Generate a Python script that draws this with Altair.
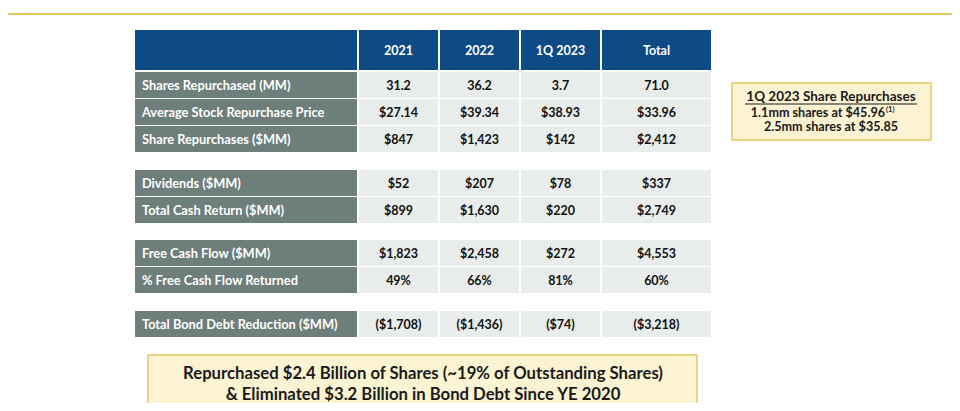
import altair as alt
import pandas as pd

# ---- table content ----
headers = ["", "2021", "2022", "1Q 2023", "Total"]
row_labels = [
    "Shares Repurchased (MM)",
    "Average Stock Repurchase Price",
    "Share Repurchases ($MM)",
    "Dividends ($MM)",
    "Total Cash Return ($MM)",
    "Free Cash Flow ($MM)",
    "% Free Cash Flow Returned",
    "Total Bond Debt Reduction ($MM)",
]
vals_2021 = ["31.2", "$27.14", "$847", "$52", "$899", "$1,823", "49%", "($1,708)"]
vals_2022 = ["36.2", "$39.34", "$1,423", "$207", "$1,630", "$2,458", "66%", "($1,436)"]
vals_1q23 = ["3.7", "$38.93", "$142", "$78", "$220", "$272", "81%", "($74)"]
vals_total = ["71.0", "$33.96", "$2,412", "$337", "$2,749", "$4,553", "60%", "($3,218)"]

side_title = "1Q 2023 Share Repurchases"
side_line1 = "1.1mm shares at $45.96"
side_sup = "(1)"
side_line2 = "2.5mm shares at $35.85"
bottom_lines = [
    "Repurchased $2.4 Billion of Shares (~19% of Outstanding Shares)",
    "& Eliminated $3.2 Billion in Bond Debt Since YE 2020",
]

# ---- layout (pixel geometry of the slide) ----
col_edges = [(135, 357), (359, 438), (440, 519), (521, 600), (602, 711)]
row_tops = [72, 99, 126, 170, 197, 240, 267, 311]
row_h = 26
head_top, head_bot = 30, 70

NAVY = "#0E4A85"
GREY = "#6E7E7B"
LIGHT = "#E8ECEA"
GOLD = "#D8B52C"
CREAM = "#FBF3D2"
BOX_EDGE = "#E3C766"
FONT = "Lato"

cols = [row_labels, vals_2021, vals_2022, vals_1q23, vals_total]

cells, texts = [], []
for j, (x0, x1) in enumerate(col_edges):
    cells.append(dict(x=x0, x2=x1, y=head_top, y2=head_bot, fill=NAVY))
    if headers[j]:
        texts.append(dict(x=(x0 + x1) / 2, y=(head_top + head_bot) / 2 + 1, t=headers[j],
                          c="white", a="center"))
    for i, top in enumerate(row_tops):
        cells.append(dict(x=x0, x2=x1, y=top, y2=top + row_h, fill=GREY if j == 0 else LIGHT))
        if j == 0:
            texts.append(dict(x=x0 + 7, y=top + row_h / 2 + 0.5, t=cols[j][i], c="white", a="left"))
        else:
            texts.append(dict(x=(x0 + x1) / 2, y=top + row_h / 2 + 0.5, t=cols[j][i], c="#111111", a="center"))

cells_df = pd.DataFrame(cells)
text_left = pd.DataFrame([t for t in texts if t["a"] == "left"])
text_center = pd.DataFrame([t for t in texts if t["a"] == "center"])

xs = alt.Scale(domain=[8, 952], nice=False, zero=False)
ys = alt.Scale(domain=[8, 403], nice=False, zero=False, reverse=True)

X = lambda f: alt.X(f"{f}:Q", scale=xs, axis=None)
Y = lambda f: alt.Y(f"{f}:Q", scale=ys, axis=None)

# gold rule at top
rule = alt.Chart(pd.DataFrame({"x": [8], "x2": [952], "y": [14]})).mark_rule(
    color=GOLD, strokeWidth=1.6).encode(x=X("x"), x2=alt.X2("x2"), y=Y("y"))

cell_layer = alt.Chart(cells_df).mark_rect(strokeWidth=0).encode(
    x=X("x"), x2=alt.X2("x2"), y=Y("y"), y2=alt.Y2("y2"),
    color=alt.Color("fill:N", scale=None))

tl = alt.Chart(text_left).mark_text(align="left", baseline="middle", font=FONT,
                                     fontWeight="bold", fontSize=12.8).encode(
    x=X("x"), y=Y("y"), text="t:N", color=alt.Color("c:N", scale=None))
tc = alt.Chart(text_center).mark_text(align="center", baseline="middle", font=FONT,
                                       fontWeight="bold", fontSize=12.5).encode(
    x=X("x"), y=Y("y"), text="t:N", color=alt.Color("c:N", scale=None))

# boxes
boxes = alt.Chart(pd.DataFrame({
    "x": [732, 148], "x2": [931, 697], "y": [83, 355], "y2": [140, 430]})).mark_rect(
    fill=CREAM, stroke=BOX_EDGE, strokeWidth=1.5).encode(
    x=X("x"), x2=alt.X2("x2"), y=Y("y"), y2=alt.Y2("y2"))

side_t = alt.Chart(pd.DataFrame({"x": [831], "y": [96.5], "t": [side_title]})).mark_text(
    align="center", baseline="middle", font=FONT, fontWeight="bold", fontSize=13.5,
    color="#1a1a1a").encode(x=X("x"), y=Y("y"), text="t:N")
side_l2 = alt.Chart(pd.DataFrame({"x": [831], "y": [127], "t": [side_line2]})).mark_text(
    align="center", baseline="middle", font=FONT, fontWeight="bold", fontSize=12.6,
    color="#1a1a1a").encode(x=X("x"), y=Y("y"), text="t:N")
side_l1 = alt.Chart(pd.DataFrame({"x": [885], "y": [113], "t": [side_line1]})).mark_text(
    align="right", baseline="middle", font=FONT, fontWeight="bold", fontSize=12.6,
    color="#1a1a1a").encode(x=X("x"), y=Y("y"), text="t:N")
side_sup_l = alt.Chart(pd.DataFrame({"x": [886], "y": [109.5], "t": [side_sup]})).mark_text(
    align="left", baseline="middle", font=FONT, fontWeight="bold", fontSize=7.5,
    color="#1a1a1a").encode(x=X("x"), y=Y("y"), text="t:N")
underline = alt.Chart(pd.DataFrame({"x": [745], "x2": [917], "y": [104]})).mark_rule(
    color="#1a1a1a", strokeWidth=1.1).encode(x=X("x"), x2=alt.X2("x2"), y=Y("y"))

bottom_df = pd.DataFrame({"x": [423, 423], "y": [374, 395], "t": bottom_lines})
bottom_text = alt.Chart(bottom_df).mark_text(align="center", baseline="middle", font=FONT,
                                             fontWeight="bold", fontSize=16.7, color="#1a1a1a").encode(
    x=X("x"), y=Y("y"), text="t:N")

chart = alt.layer(rule, cell_layer, tl, tc, boxes, side_t, side_l1, side_l2, side_sup_l,
                  underline, bottom_text).properties(
    width=944, height=395, padding=0, autosize=alt.AutoSizeParams(type="none"),
    background="white").configure_view(stroke=None)

chart.save("out.html", embed_options={"renderer": "svg", "actions": False})
